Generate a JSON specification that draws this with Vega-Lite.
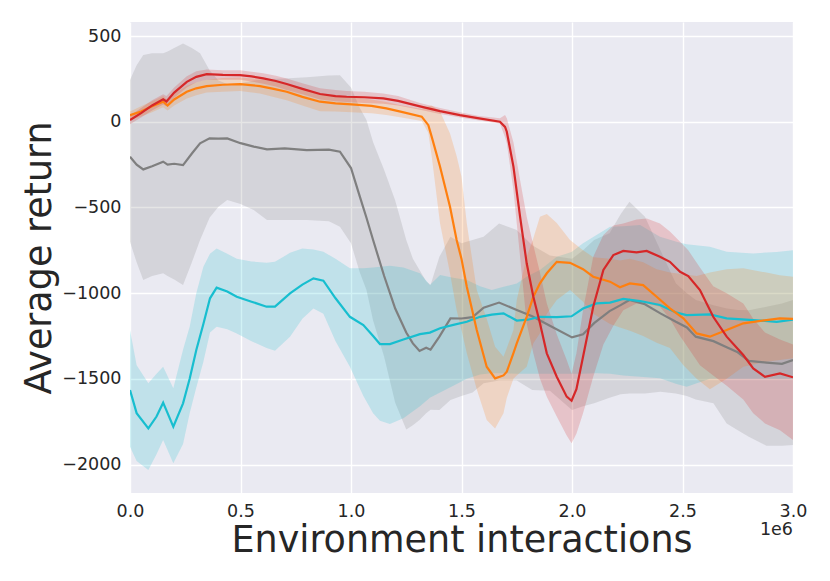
{
  "$schema": "https://vega.github.io/schema/vega-lite/v6.json",
  "width": 663,
  "height": 471,
  "autosize": {"type": "none"},
  "padding": {"left": 130, "top": 22, "right": 37, "bottom": 88},
  "background": "white",
  "config": {
    "view": {"fill": "#EAEAF2", "stroke": null},
    "font": "DejaVu Sans",
    "axis": {
      "grid": true,
      "gridColor": "white",
      "gridWidth": 1.4,
      "domain": false,
      "ticks": false,
      "labelFlush": false,
      "labelFont": "DejaVu Sans",
      "labelFontSize": 17.5,
      "labelColor": "#262626",
      "titleFont": "DejaVu Sans",
      "titleFontSize": 36.5,
      "titleFontWeight": "normal",
      "titleColor": "#262626"
    }
  },
  "datasets": {
    "runs": [
      {"s": "gray", "x": 0.00, "m": -204, "lo": -700, "hi": 243},
      {"s": "gray", "x": 0.03, "m": -250, "lo": -820, "hi": 330},
      {"s": "gray", "x": 0.06, "m": -278, "lo": -923, "hi": 390},
      {"s": "gray", "x": 0.10, "m": -260, "lo": -900, "hi": 400},
      {"s": "gray", "x": 0.15, "m": -233, "lo": -884, "hi": 399},
      {"s": "gray", "x": 0.17, "m": -250, "lo": -900, "hi": 410},
      {"s": "gray", "x": 0.20, "m": -245, "lo": -920, "hi": 430},
      {"s": "gray", "x": 0.24, "m": -253, "lo": -953, "hi": 457},
      {"s": "gray", "x": 0.28, "m": -185, "lo": -820, "hi": 430},
      {"s": "gray", "x": 0.317, "m": -126, "lo": -690, "hi": 399},
      {"s": "gray", "x": 0.36, "m": -97, "lo": -560, "hi": 300},
      {"s": "gray", "x": 0.40, "m": -98, "lo": -496, "hi": 240},
      {"s": "gray", "x": 0.44, "m": -97, "lo": -457, "hi": 220},
      {"s": "gray", "x": 0.50, "m": -125, "lo": -480, "hi": 225},
      {"s": "gray", "x": 0.56, "m": -145, "lo": -515, "hi": 240},
      {"s": "gray", "x": 0.62, "m": -161, "lo": -573, "hi": 250},
      {"s": "gray", "x": 0.70, "m": -155, "lo": -573, "hi": 253},
      {"s": "gray", "x": 0.80, "m": -165, "lo": -573, "hi": 260},
      {"s": "gray", "x": 0.90, "m": -163, "lo": -580, "hi": 270},
      {"s": "gray", "x": 0.95, "m": -175, "lo": -612, "hi": 272},
      {"s": "gray", "x": 1.00, "m": -270, "lo": -709, "hi": 200},
      {"s": "gray", "x": 1.04, "m": -437, "lo": -880, "hi": 80},
      {"s": "gray", "x": 1.07, "m": -560, "lo": -982, "hi": 10},
      {"s": "gray", "x": 1.10, "m": -690, "lo": -1160, "hi": -120},
      {"s": "gray", "x": 1.15, "m": -900, "lo": -1371, "hi": -282},
      {"s": "gray", "x": 1.20, "m": -1090, "lo": -1640, "hi": -460},
      {"s": "gray", "x": 1.25, "m": -1230, "lo": -1795, "hi": -690},
      {"s": "gray", "x": 1.28, "m": -1293, "lo": -1770, "hi": -800},
      {"s": "gray", "x": 1.31, "m": -1337, "lo": -1740, "hi": -865},
      {"s": "gray", "x": 1.34, "m": -1318, "lo": -1700, "hi": -930},
      {"s": "gray", "x": 1.36, "m": -1330, "lo": -1680, "hi": -953},
      {"s": "gray", "x": 1.40, "m": -1254, "lo": -1682, "hi": -788},
      {"s": "gray", "x": 1.45, "m": -1147, "lo": -1624, "hi": -671},
      {"s": "gray", "x": 1.50, "m": -1148, "lo": -1600, "hi": -709},
      {"s": "gray", "x": 1.55, "m": -1140, "lo": -1580, "hi": -690},
      {"s": "gray", "x": 1.60, "m": -1085, "lo": -1526, "hi": -671},
      {"s": "gray", "x": 1.67, "m": -1055, "lo": -1510, "hi": -593},
      {"s": "gray", "x": 1.75, "m": -1098, "lo": -1510, "hi": -632},
      {"s": "gray", "x": 1.82, "m": -1135, "lo": -1565, "hi": -720},
      {"s": "gray", "x": 1.90, "m": -1190, "lo": -1570, "hi": -780},
      {"s": "gray", "x": 2.00, "m": -1258, "lo": -1682, "hi": -800},
      {"s": "gray", "x": 2.05, "m": -1240, "lo": -1660, "hi": -750},
      {"s": "gray", "x": 2.10, "m": -1175, "lo": -1643, "hi": -690},
      {"s": "gray", "x": 2.17, "m": -1105, "lo": -1610, "hi": -651},
      {"s": "gray", "x": 2.22, "m": -1070, "lo": -1590, "hi": -540},
      {"s": "gray", "x": 2.26, "m": -1040, "lo": -1585, "hi": -467},
      {"s": "gray", "x": 2.33, "m": -1065, "lo": -1585, "hi": -554},
      {"s": "gray", "x": 2.40, "m": -1118, "lo": -1575, "hi": -749},
      {"s": "gray", "x": 2.47, "m": -1167, "lo": -1585, "hi": -943},
      {"s": "gray", "x": 2.52, "m": -1200, "lo": -1600, "hi": -1000},
      {"s": "gray", "x": 2.56, "m": -1254, "lo": -1620, "hi": -1040},
      {"s": "gray", "x": 2.64, "m": -1280, "lo": -1643, "hi": -1070},
      {"s": "gray", "x": 2.70, "m": -1315, "lo": -1760, "hi": -1090},
      {"s": "gray", "x": 2.75, "m": -1345, "lo": -1800, "hi": -1098},
      {"s": "gray", "x": 2.80, "m": -1395, "lo": -1838, "hi": -1100},
      {"s": "gray", "x": 2.88, "m": -1405, "lo": -1890, "hi": -1080},
      {"s": "gray", "x": 2.95, "m": -1412, "lo": -1890, "hi": -1060},
      {"s": "gray", "x": 3.00, "m": -1390, "lo": -1886, "hi": -1040},

      {"s": "cyan", "x": 0.00, "m": -1565, "lo": -1896, "hi": -1215},
      {"s": "cyan", "x": 0.03, "m": -1700, "lo": -1980, "hi": -1420},
      {"s": "cyan", "x": 0.083, "m": -1789, "lo": -2032, "hi": -1526},
      {"s": "cyan", "x": 0.12, "m": -1720, "lo": -1940, "hi": -1470},
      {"s": "cyan", "x": 0.15, "m": -1639, "lo": -1857, "hi": -1429},
      {"s": "cyan", "x": 0.196, "m": -1779, "lo": -1993, "hi": -1555},
      {"s": "cyan", "x": 0.24, "m": -1643, "lo": -1880, "hi": -1330},
      {"s": "cyan", "x": 0.27, "m": -1500, "lo": -1700, "hi": -1196},
      {"s": "cyan", "x": 0.30, "m": -1332, "lo": -1550, "hi": -1000},
      {"s": "cyan", "x": 0.332, "m": -1180, "lo": -1400, "hi": -846},
      {"s": "cyan", "x": 0.362, "m": -1030, "lo": -1230, "hi": -770},
      {"s": "cyan", "x": 0.392, "m": -968, "lo": -1196, "hi": -739},
      {"s": "cyan", "x": 0.44, "m": -990, "lo": -1210, "hi": -770},
      {"s": "cyan", "x": 0.483, "m": -1021, "lo": -1235, "hi": -800},
      {"s": "cyan", "x": 0.55, "m": -1050, "lo": -1280, "hi": -815},
      {"s": "cyan", "x": 0.618, "m": -1079, "lo": -1320, "hi": -823},
      {"s": "cyan", "x": 0.656, "m": -1079, "lo": -1336, "hi": -817},
      {"s": "cyan", "x": 0.724, "m": -1001, "lo": -1254, "hi": -765},
      {"s": "cyan", "x": 0.78, "m": -950, "lo": -1150, "hi": -739},
      {"s": "cyan", "x": 0.83, "m": -914, "lo": -1089, "hi": -745},
      {"s": "cyan", "x": 0.875, "m": -927, "lo": -1120, "hi": -758},
      {"s": "cyan", "x": 0.93, "m": -1030, "lo": -1280, "hi": -800},
      {"s": "cyan", "x": 0.995, "m": -1138, "lo": -1429, "hi": -855},
      {"s": "cyan", "x": 1.056, "m": -1186, "lo": -1600, "hi": -855},
      {"s": "cyan", "x": 1.10, "m": -1250, "lo": -1700, "hi": -850},
      {"s": "cyan", "x": 1.131, "m": -1297, "lo": -1745, "hi": -846},
      {"s": "cyan", "x": 1.176, "m": -1297, "lo": -1764, "hi": -840},
      {"s": "cyan", "x": 1.237, "m": -1270, "lo": -1730, "hi": -850},
      {"s": "cyan", "x": 1.312, "m": -1239, "lo": -1660, "hi": -884},
      {"s": "cyan", "x": 1.357, "m": -1230, "lo": -1610, "hi": -953},
      {"s": "cyan", "x": 1.403, "m": -1205, "lo": -1580, "hi": -894},
      {"s": "cyan", "x": 1.463, "m": -1185, "lo": -1540, "hi": -910},
      {"s": "cyan", "x": 1.524, "m": -1167, "lo": -1500, "hi": -923},
      {"s": "cyan", "x": 1.584, "m": -1138, "lo": -1475, "hi": -960},
      {"s": "cyan", "x": 1.637, "m": -1125, "lo": -1468, "hi": -982},
      {"s": "cyan", "x": 1.69, "m": -1118, "lo": -1468, "hi": -963},
      {"s": "cyan", "x": 1.75, "m": -1160, "lo": -1470, "hi": -943},
      {"s": "cyan", "x": 1.80, "m": -1155, "lo": -1470, "hi": -900},
      {"s": "cyan", "x": 1.855, "m": -1138, "lo": -1470, "hi": -865},
      {"s": "cyan", "x": 1.931, "m": -1140, "lo": -1470, "hi": -788},
      {"s": "cyan", "x": 1.998, "m": -1135, "lo": -1470, "hi": -760},
      {"s": "cyan", "x": 2.05, "m": -1090, "lo": -1470, "hi": -709},
      {"s": "cyan", "x": 2.111, "m": -1060, "lo": -1468, "hi": -660},
      {"s": "cyan", "x": 2.172, "m": -1055, "lo": -1470, "hi": -612},
      {"s": "cyan", "x": 2.232, "m": -1034, "lo": -1480, "hi": -610},
      {"s": "cyan", "x": 2.308, "m": -1046, "lo": -1488, "hi": -603},
      {"s": "cyan", "x": 2.398, "m": -1069, "lo": -1497, "hi": -671},
      {"s": "cyan", "x": 2.473, "m": -1114, "lo": -1530, "hi": -700},
      {"s": "cyan", "x": 2.519, "m": -1128, "lo": -1546, "hi": -715},
      {"s": "cyan", "x": 2.624, "m": -1124, "lo": -1500, "hi": -729},
      {"s": "cyan", "x": 2.70, "m": -1147, "lo": -1500, "hi": -758},
      {"s": "cyan", "x": 2.82, "m": -1157, "lo": -1500, "hi": -768},
      {"s": "cyan", "x": 2.926, "m": -1167, "lo": -1500, "hi": -760},
      {"s": "cyan", "x": 3.00, "m": -1155, "lo": -1500, "hi": -749},

      {"s": "orange", "x": 0.00, "m": 38, "lo": 10, "hi": 60},
      {"s": "orange", "x": 0.05, "m": 60, "lo": 30, "hi": 90},
      {"s": "orange", "x": 0.10, "m": 90, "lo": 55, "hi": 120},
      {"s": "orange", "x": 0.15, "m": 117, "lo": 85, "hi": 150},
      {"s": "orange", "x": 0.17, "m": 95, "lo": 65, "hi": 125},
      {"s": "orange", "x": 0.20, "m": 130, "lo": 95, "hi": 165},
      {"s": "orange", "x": 0.257, "m": 175, "lo": 135, "hi": 210},
      {"s": "orange", "x": 0.30, "m": 195, "lo": 155, "hi": 230},
      {"s": "orange", "x": 0.347, "m": 208, "lo": 170, "hi": 245},
      {"s": "orange", "x": 0.42, "m": 216, "lo": 175, "hi": 255},
      {"s": "orange", "x": 0.498, "m": 220, "lo": 180, "hi": 258},
      {"s": "orange", "x": 0.588, "m": 208, "lo": 165, "hi": 250},
      {"s": "orange", "x": 0.65, "m": 192, "lo": 145, "hi": 235},
      {"s": "orange", "x": 0.709, "m": 175, "lo": 125, "hi": 220},
      {"s": "orange", "x": 0.78, "m": 145, "lo": 95, "hi": 190},
      {"s": "orange", "x": 0.86, "m": 117, "lo": 62, "hi": 160},
      {"s": "orange", "x": 0.93, "m": 107, "lo": 60, "hi": 150},
      {"s": "orange", "x": 1.003, "m": 101, "lo": 55, "hi": 145},
      {"s": "orange", "x": 1.093, "m": 93, "lo": 50, "hi": 130},
      {"s": "orange", "x": 1.16, "m": 78, "lo": 40, "hi": 115},
      {"s": "orange", "x": 1.229, "m": 58, "lo": 25, "hi": 95},
      {"s": "orange", "x": 1.32, "m": 30, "lo": 5, "hi": 75},
      {"s": "orange", "x": 1.35, "m": -20, "lo": -66, "hi": 90},
      {"s": "orange", "x": 1.365, "m": -87, "lo": -200, "hi": 95},
      {"s": "orange", "x": 1.403, "m": -262, "lo": -593, "hi": 60},
      {"s": "orange", "x": 1.448, "m": -496, "lo": -884, "hi": -68},
      {"s": "orange", "x": 1.478, "m": -690, "lo": -1100, "hi": -200},
      {"s": "orange", "x": 1.50, "m": -800, "lo": -1215, "hi": -321},
      {"s": "orange", "x": 1.524, "m": -963, "lo": -1350, "hi": -593},
      {"s": "orange", "x": 1.569, "m": -1215, "lo": -1560, "hi": -982},
      {"s": "orange", "x": 1.614, "m": -1429, "lo": -1740, "hi": -1150},
      {"s": "orange", "x": 1.652, "m": -1497, "lo": -1790, "hi": -1313},
      {"s": "orange", "x": 1.69, "m": -1480, "lo": -1700, "hi": -1371},
      {"s": "orange", "x": 1.705, "m": -1458, "lo": -1610, "hi": -1320},
      {"s": "orange", "x": 1.735, "m": -1350, "lo": -1500, "hi": -1215},
      {"s": "orange", "x": 1.75, "m": -1293, "lo": -1480, "hi": -1040},
      {"s": "orange", "x": 1.795, "m": -1138, "lo": -1429, "hi": -788},
      {"s": "orange", "x": 1.825, "m": -1021, "lo": -1293, "hi": -680},
      {"s": "orange", "x": 1.855, "m": -943, "lo": -1234, "hi": -554},
      {"s": "orange", "x": 1.886, "m": -884, "lo": -1120, "hi": -538},
      {"s": "orange", "x": 1.931, "m": -817, "lo": -1040, "hi": -590},
      {"s": "orange", "x": 1.991, "m": -823, "lo": -982, "hi": -690},
      {"s": "orange", "x": 2.05, "m": -860, "lo": -1050, "hi": -749},
      {"s": "orange", "x": 2.096, "m": -904, "lo": -1120, "hi": -790},
      {"s": "orange", "x": 2.172, "m": -933, "lo": -1180, "hi": -800},
      {"s": "orange", "x": 2.217, "m": -966, "lo": -1200, "hi": -810},
      {"s": "orange", "x": 2.262, "m": -943, "lo": -1220, "hi": -800},
      {"s": "orange", "x": 2.322, "m": -953, "lo": -1250, "hi": -820},
      {"s": "orange", "x": 2.383, "m": -1021, "lo": -1290, "hi": -860},
      {"s": "orange", "x": 2.443, "m": -1089, "lo": -1320, "hi": -880},
      {"s": "orange", "x": 2.504, "m": -1147, "lo": -1420, "hi": -890},
      {"s": "orange", "x": 2.564, "m": -1235, "lo": -1500, "hi": -900},
      {"s": "orange", "x": 2.624, "m": -1254, "lo": -1560, "hi": -880},
      {"s": "orange", "x": 2.70, "m": -1215, "lo": -1500, "hi": -860},
      {"s": "orange", "x": 2.775, "m": -1176, "lo": -1430, "hi": -855},
      {"s": "orange", "x": 2.88, "m": -1157, "lo": -1400, "hi": -880},
      {"s": "orange", "x": 2.94, "m": -1147, "lo": -1390, "hi": -895},
      {"s": "orange", "x": 3.00, "m": -1150, "lo": -1380, "hi": -904},

      {"s": "red", "x": 0.00, "m": 10, "lo": -15, "hi": 35},
      {"s": "red", "x": 0.05, "m": 50, "lo": 25, "hi": 80},
      {"s": "red", "x": 0.10, "m": 95, "lo": 65, "hi": 125},
      {"s": "red", "x": 0.15, "m": 131, "lo": 100, "hi": 160},
      {"s": "red", "x": 0.165, "m": 118, "lo": 90, "hi": 150},
      {"s": "red", "x": 0.20, "m": 170, "lo": 140, "hi": 200},
      {"s": "red", "x": 0.257, "m": 233, "lo": 200, "hi": 265},
      {"s": "red", "x": 0.30, "m": 262, "lo": 230, "hi": 295},
      {"s": "red", "x": 0.347, "m": 278, "lo": 245, "hi": 305},
      {"s": "red", "x": 0.42, "m": 273, "lo": 245, "hi": 300},
      {"s": "red", "x": 0.498, "m": 272, "lo": 245, "hi": 300},
      {"s": "red", "x": 0.55, "m": 265, "lo": 235, "hi": 292},
      {"s": "red", "x": 0.603, "m": 253, "lo": 222, "hi": 283},
      {"s": "red", "x": 0.66, "m": 238, "lo": 205, "hi": 268},
      {"s": "red", "x": 0.709, "m": 220, "lo": 185, "hi": 252},
      {"s": "red", "x": 0.78, "m": 192, "lo": 160, "hi": 225},
      {"s": "red", "x": 0.86, "m": 162, "lo": 130, "hi": 195},
      {"s": "red", "x": 0.93, "m": 150, "lo": 120, "hi": 185},
      {"s": "red", "x": 0.98, "m": 146, "lo": 115, "hi": 180},
      {"s": "red", "x": 1.06, "m": 143, "lo": 110, "hi": 175},
      {"s": "red", "x": 1.146, "m": 136, "lo": 105, "hi": 165},
      {"s": "red", "x": 1.213, "m": 122, "lo": 95, "hi": 150},
      {"s": "red", "x": 1.312, "m": 90, "lo": 70, "hi": 110},
      {"s": "red", "x": 1.403, "m": 62, "lo": 45, "hi": 80},
      {"s": "red", "x": 1.493, "m": 39, "lo": 25, "hi": 55},
      {"s": "red", "x": 1.58, "m": 20, "lo": 8, "hi": 33},
      {"s": "red", "x": 1.674, "m": 0, "lo": -10, "hi": 20},
      {"s": "red", "x": 1.697, "m": -30, "lo": -90, "hi": 39},
      {"s": "red", "x": 1.705, "m": -58, "lo": -126, "hi": 20},
      {"s": "red", "x": 1.735, "m": -262, "lo": -398, "hi": -120},
      {"s": "red", "x": 1.765, "m": -554, "lo": -788, "hi": -340},
      {"s": "red", "x": 1.795, "m": -826, "lo": -1176, "hi": -554},
      {"s": "red", "x": 1.825, "m": -1021, "lo": -1350, "hi": -720},
      {"s": "red", "x": 1.855, "m": -1176, "lo": -1500, "hi": -880},
      {"s": "red", "x": 1.886, "m": -1351, "lo": -1604, "hi": -1060},
      {"s": "red", "x": 1.931, "m": -1488, "lo": -1720, "hi": -1240},
      {"s": "red", "x": 1.976, "m": -1604, "lo": -1830, "hi": -1390},
      {"s": "red", "x": 1.998, "m": -1628, "lo": -1876, "hi": -1470},
      {"s": "red", "x": 2.02, "m": -1560, "lo": -1820, "hi": -1350},
      {"s": "red", "x": 2.05, "m": -1371, "lo": -1700, "hi": -1100},
      {"s": "red", "x": 2.096, "m": -1079, "lo": -1488, "hi": -788},
      {"s": "red", "x": 2.142, "m": -865, "lo": -1300, "hi": -660},
      {"s": "red", "x": 2.187, "m": -778, "lo": -1190, "hi": -605},
      {"s": "red", "x": 2.232, "m": -754, "lo": -1100, "hi": -593},
      {"s": "red", "x": 2.292, "m": -762, "lo": -1060, "hi": -570},
      {"s": "red", "x": 2.338, "m": -754, "lo": -1060, "hi": -564},
      {"s": "red", "x": 2.398, "m": -788, "lo": -1080, "hi": -593},
      {"s": "red", "x": 2.443, "m": -817, "lo": -1150, "hi": -640},
      {"s": "red", "x": 2.489, "m": -875, "lo": -1250, "hi": -700},
      {"s": "red", "x": 2.526, "m": -900, "lo": -1320, "hi": -750},
      {"s": "red", "x": 2.579, "m": -982, "lo": -1420, "hi": -850},
      {"s": "red", "x": 2.639, "m": -1138, "lo": -1480, "hi": -960},
      {"s": "red", "x": 2.70, "m": -1254, "lo": -1540, "hi": -1000},
      {"s": "red", "x": 2.775, "m": -1361, "lo": -1620, "hi": -1060},
      {"s": "red", "x": 2.82, "m": -1439, "lo": -1700, "hi": -1150},
      {"s": "red", "x": 2.873, "m": -1488, "lo": -1760, "hi": -1230},
      {"s": "red", "x": 2.941, "m": -1468, "lo": -1800, "hi": -1270},
      {"s": "red", "x": 3.00, "m": -1491, "lo": -1857, "hi": -1300}
    ],
    "offset": [
      {"x": 3.0, "y": -2166, "label": "1e6"}
    ]
  },
  "layer": [
    {
      "data": {"name": "runs"},
      "mark": {"type": "area", "opacity": 0.2, "clip": true},
      "encoding": {
        "x": {
          "field": "x",
          "type": "quantitative",
          "scale": {"domain": [0, 3.0], "nice": false, "zero": false},
          "axis": {
            "values": [0, 0.5, 1.0, 1.5, 2.0, 2.5, 3.0],
            "format": ".1f",
            "labelPadding": 9,
            "title": "Environment interactions",
            "titleBaseline": "alphabetic",
            "titleX": 331.5,
            "titleY": 58
          }
        },
        "y": {
          "field": "lo",
          "type": "quantitative",
          "scale": {"domain": [-2166, 582], "nice": false, "zero": false},
          "axis": {
            "values": [-2000, -1500, -1000, -500, 0, 500],
            "format": "d",
            "labelPadding": 9,
            "title": "Average return",
            "titleBaseline": "alphabetic",
            "titleAngle": -90,
            "titleX": -80,
            "titleY": 235.5
          }
        },
        "y2": {"field": "hi"},
        "color": {
          "field": "s",
          "type": "nominal",
          "scale": {
            "domain": ["gray", "cyan", "orange", "red"],
            "range": ["#7f7f7f", "#17becf", "#ff7f0e", "#d62728"]
          },
          "legend": null
        }
      }
    },
    {
      "data": {"name": "runs"},
      "mark": {"type": "line", "strokeWidth": 2.2, "clip": true},
      "encoding": {
        "x": {"field": "x", "type": "quantitative"},
        "y": {"field": "m", "type": "quantitative"},
        "color": {"field": "s", "type": "nominal", "legend": null}
      }
    },
    {
      "data": {"name": "offset"},
      "mark": {
        "type": "text",
        "align": "right",
        "baseline": "alphabetic",
        "dy": 42,
        "font": "DejaVu Sans",
        "fontSize": 17.5,
        "color": "#262626"
      },
      "encoding": {
        "x": {"field": "x", "type": "quantitative"},
        "y": {"field": "y", "type": "quantitative"},
        "text": {"field": "label"}
      }
    }
  ]
}
